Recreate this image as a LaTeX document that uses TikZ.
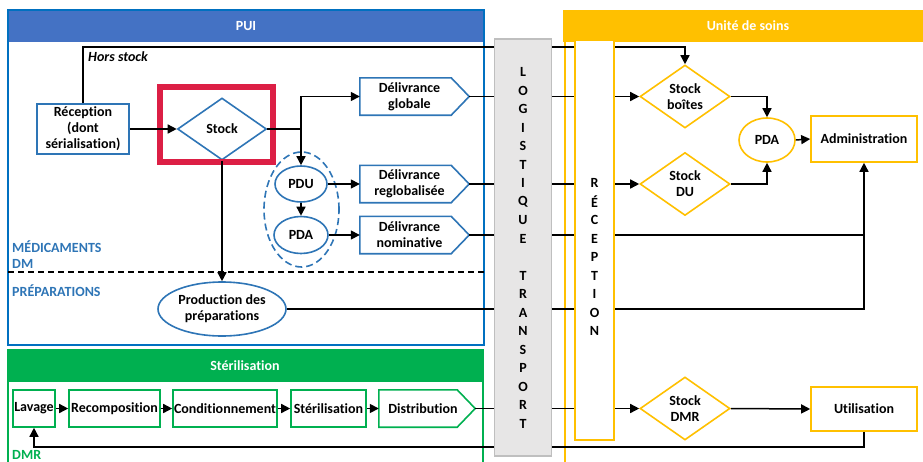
\documentclass[tikz,border=0pt]{standalone}
\usepackage{fontspec}
\setmainfont{Carlito}[Ligatures=NoCommon]
\usetikzlibrary{shapes.geometric,arrows.meta}
\definecolor{puiblue}{HTML}{4472C4}
\definecolor{frameblue}{HTML}{0070C0}
\definecolor{nodeblue}{HTML}{2E75B6}
\definecolor{stergreen}{HTML}{00B050}
\definecolor{usyellow}{HTML}{FFC000}
\definecolor{hlred}{HTML}{DC1F45}
\definecolor{logigrey}{HTML}{E7E6E6}
\definecolor{logiborder}{HTML}{BFBFBF}
\newcommand\pentaoutline[2]{%
  \draw[#2,line width=1.6pt,fill=white,line join=miter] (#1.north west) -- ([xshift=-18pt]#1.north east) -- (#1.east) -- ([xshift=-18pt]#1.south east) -- (#1.south west) -- cycle;}
\begin{document}
\begin{tikzpicture}[x=1pt,y=-1pt,
  font=\fontsize{14}{16}\selectfont\bfseries,
  bluebox/.style={draw=nodeblue,line width=1.6pt,fill=white,inner sep=0pt,align=center},
  bluediamond/.style={diamond,draw=nodeblue,line width=1.6pt,fill=white,inner sep=0pt,align=center,minimum width=89pt,minimum height=62pt},
  pentaspace/.style={inner sep=0pt,minimum width=109pt,minimum height=37pt},
  pentatext/.style={inner sep=0pt,align=center},
  blueellipse/.style={ellipse,draw=nodeblue,line width=1.6pt,fill=white,inner sep=0pt,align=center},
  yellowdiamond/.style={diamond,draw=usyellow,line width=1.6pt,fill=white,inner sep=0pt,align=center,minimum width=90pt,minimum height=63pt},
  yellowbox/.style={draw=usyellow,line width=1.6pt,fill=white,inner sep=0pt,align=center},
  yellowellipse/.style={ellipse,draw=usyellow,line width=1.6pt,fill=white,inner sep=0pt,align=center},
  greenbox/.style={draw=stergreen,line width=1.6pt,fill=white,inner sep=0pt,minimum height=37pt},
  plainline/.style={draw=black,line width=1.5pt},
  conn/.style={draw=black,line width=1.5pt,-{Triangle[length=9pt,width=9pt]}},
  headtext/.style={text=white,inner sep=0pt},
  sidelabel/.style={anchor=west,inner sep=0pt,align=left},
  letter/.style={inner sep=0pt}
]
\useasboundingbox (0,0) rectangle (923,461);
% ---------- frames ----------
\fill[puiblue] (8,10) rectangle (484,42);
\draw[frameblue,line width=2.5pt] (8,10) rectangle (484,345);
\node[headtext] (puititle) at (246,26) {PUI};
\fill[stergreen] (8,350) rectangle (483,382);
\draw[stergreen,line width=2.5pt] (8,470) -- (8,350) -- (483,350) -- (483,470);
\node[headtext] (stertitle) at (245,366) {Stérilisation};
\fill[usyellow] (563,10) rectangle (930,42);
\draw[usyellow,line width=2.5pt] (565,470) -- (565,10);
\node[headtext] (ustitle) at (748,26) {Unité de soins};
\draw[black,line width=1.5pt,dash pattern=on 6pt off 4pt] (8,272) -- (484,272);
\node[sidelabel,text=nodeblue] (medlab) at (12,255) {MÉDICAMENTS\\DM};
\node[sidelabel,text=nodeblue] (preplab) at (12,291) {PRÉPARATIONS};
\node[sidelabel,text=stergreen] (dmrlab) at (12,454.5) {DMR};
% ---------- PUI nodes ----------
\node[bluebox,minimum width=92pt,minimum height=50pt] (recep) at (83,129) {Réception\\(dont\\sérialisation)};
\node[bluediamond] (stock) at (222,129) {Stock};
\draw[hlred,line width=6pt] (160,87) rectangle (273,162);
\node[pentaspace] (dglob) at (414.5,96.5) {};
\pentaoutline{dglob}{nodeblue}
\node[pentatext] (dglobt) at ([xshift=-5pt]dglob.center) {Délivrance\\globale};
\node[pentaspace] (dreg) at (414.5,184) {};
\pentaoutline{dreg}{nodeblue}
\node[pentatext] (dregt) at ([xshift=-5pt]dreg.center) {Délivrance\\reglobalisée};
\node[pentaspace] (dnom) at (414.5,235) {};
\pentaoutline{dnom}{nodeblue}
\node[pentatext] (dnomt) at ([xshift=-5pt]dnom.center) {Délivrance\\nominative};
\node[ellipse,draw=nodeblue,line width=1.6pt,dash pattern=on 7pt off 4pt,minimum width=75pt,minimum height=115pt] (grp) at (301.5,209.5) {};
\node[blueellipse,minimum width=52pt,minimum height=36pt] (pdu) at (301,184) {PDU};
\node[blueellipse,minimum width=54pt,minimum height=37pt] (pdapui) at (301,235) {PDA};
\node[blueellipse,minimum width=128pt,minimum height=54pt] (prod) at (222,309) {Production des\\préparations};
\node[anchor=west,inner sep=0pt,font=\fontsize{14}{16}\selectfont\bfseries\itshape] (hstxt) at (88,57) {Hors stock};
% ---------- US nodes ----------
\node[yellowdiamond] (sboit) at (685,96.5) {Stock\\boîtes};
\node[yellowdiamond] (sdu) at (685,184) {Stock\\DU};
\node[yellowdiamond] (sdmr) at (685,408.5) {Stock\\DMR};
\node[yellowellipse,minimum width=56pt,minimum height=44pt] (pdaus) at (767,140) {PDA};
\node[yellowbox,minimum width=106pt,minimum height=46pt] (admin) at (864,139) {Administration};
\node[yellowbox,minimum width=106pt,minimum height=44pt] (util) at (864,409) {Utilisation};
% ---------- Sterilisation nodes ----------
\node[greenbox,minimum width=42pt,label={center:Lavage}] (lav) at (34,408.5) {};
\node[greenbox,minimum width=91pt,label={center:Recomposition}] (recomp) at (114.5,408.5) {};
\node[greenbox,minimum width=104pt,label={center:Conditionnement}] (cond) at (225,408.5) {};
\node[greenbox,minimum width=75pt,label={center:Stérilisation}] (steri) at (328.5,408.5) {};
\node[pentaspace,minimum width=96pt] (distr) at (427,408.5) {};
\pentaoutline{distr}{stergreen}
\node[pentatext] (distrt) at ([xshift=-4pt]distr.center) {Distribution};
% ---------- connectors ----------
\draw[conn] (recep.east) -- (stock.west);
\coordinate (br) at (301,129);
\draw[plainline] (stock.east) -- (br);
\draw[conn] (br) |- (dglob.west);
\draw[conn] (br) -- (pdu.north);
\draw[conn] (pdu.south) -- (pdapui.north);
\draw[conn] (pdu.east) -- (dreg.west);
\draw[conn] (pdapui.east) -- (dnom.west);
\draw[conn] (stock.south) -- (prod.north);
\coordinate (hsc) at (685,47);
\draw[conn] (recep.north) |- (hsc) -- (sboit.north);
\draw[conn] (dglob.east) -- (sboit.west);
\draw[conn] (dreg.east) -- (sdu.west);
\draw[plainline] (dnom.east) -- (dnom.east -| admin.south);
\draw[conn] (prod.east) -| (admin.south);
\draw[conn] (sboit.east) -| (pdaus.north);
\draw[conn] (sdu.east) -| (pdaus.south);
\draw[conn] (pdaus.east) -- (admin.west);
\draw[conn] (lav.east) -- (recomp.west);
\draw[conn] (recomp.east) -- (cond.west);
\draw[conn] (cond.east) -- (steri.west);
\draw[conn] (steri.east) -- (distr.west);
\draw[conn] (distr.east) -- (sdmr.west);
\draw[conn] (sdmr.east) -- (util.west);
\coordinate (ret) at (34,447);
\draw[conn] (util.south) |- (ret) -- (lav.south);
% ---------- logistique / reception bars ----------
\node[draw=logiborder,fill=logigrey,line width=1.2pt,minimum width=57pt,minimum height=417pt,inner sep=0pt] (logi) at (523,247.5) {};
\foreach \l [count=\i from 0] in {L,O,G,I,S,T,I,Q,U,E,{},T,R,A,N,S,P,O,R,T}
  \node[letter] (lg\i) at (523,72+18.5*\i) {\l};
\node[draw=usyellow,fill=white,line width=1.6pt,minimum width=39pt,minimum height=400pt,inner sep=0pt] (recus) at (594.5,240) {};
\foreach \l [count=\i from 0] in {R,É,C,E,P,T,I,O,N}
  \node[letter] (rc\i) at (594.5,183+18.5*\i) {\l};
\end{tikzpicture}
\end{document}
